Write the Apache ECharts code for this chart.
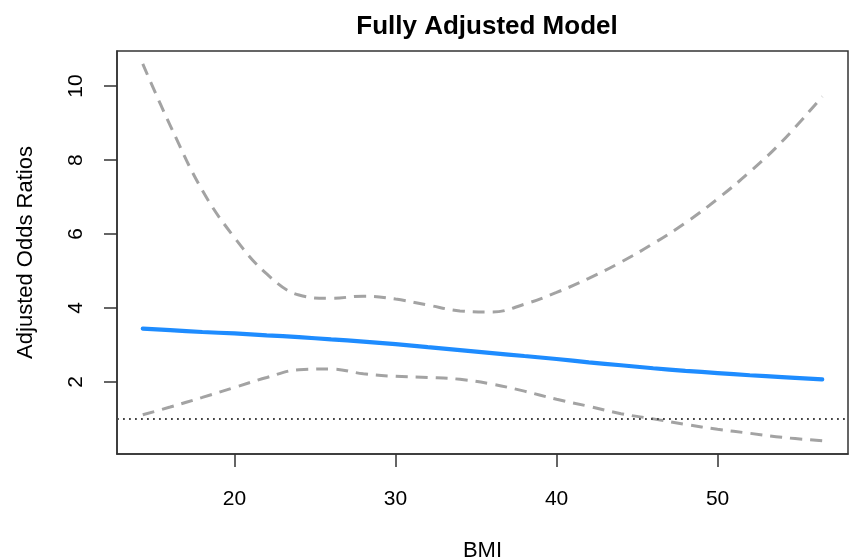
<!DOCTYPE html>
<html>
<head>
<meta charset="utf-8">
<script src="https://cdn.jsdelivr.net/npm/echarts@6/dist/echarts.min.js"></script>
<style>
  html, body { margin: 0; padding: 0; background: #fff; }
  #container { width: 855px; height: 560px; }
</style>
</head>
<body>
<div id="container"></div>
<script>
var bmi = [14.3, 16, 18, 20, 22, 24, 26, 28, 30, 32, 34, 36, 38, 40, 42, 44, 46, 48, 50, 52, 54, 56.5];
var estimate = [3.44, 3.40, 3.35, 3.31, 3.26, 3.21, 3.15, 3.09, 3.02, 2.94, 2.86, 2.78, 2.70, 2.62, 2.53, 2.45, 2.37, 2.30, 2.24, 2.18, 2.13, 2.07];
var upper = [10.6, 8.94, 7.18, 5.90, 4.92, 4.35, 4.26, 4.32, 4.24, 4.08, 3.92, 3.89, 4.10, 4.42, 4.80, 5.24, 5.74, 6.30, 6.95, 7.68, 8.50, 9.72];
var lower = [1.11, 1.32, 1.58, 1.85, 2.12, 2.33, 2.35, 2.22, 2.15, 2.12, 2.07, 1.94, 1.75, 1.53, 1.34, 1.14, 1.00, 0.85, 0.72, 0.61, 0.50, 0.41];
var refLine = 1;
var xTicks = [20, 30, 40, 50];
var yTicks = [2, 4, 6, 8, 10];

function pairs(ys) {
  return bmi.map(function (x, i) { return [x, ys[i]]; });
}

var dom = document.getElementById("container");
var myChart = echarts.init(dom, null, { renderer: "canvas" });

var font = "Liberation Sans, Arial, Helvetica, sans-serif";

var option = {
  animation: false,
  backgroundColor: "#fff",
  title: {
    text: "Fully Adjusted Model",
    left: 482,
    top: 9,
    textAlign: "center",
    textStyle: { fontFamily: font, fontSize: 26, fontWeight: "bold", color: "#000" },
  },
  grid: {
    left: 117,
    right: 7,
    top: 51,
    bottom: 106,
    show: true,
    borderColor: "#333",
    borderWidth: 1.5,
    containLabel: false,
    outerBoundsMode: "none",
  },
  xAxis: {
    type: "value",
    min: 12.7,
    max: 58.1,
    name: "BMI",
    nameLocation: "middle",
    nameGap: 86,
    nameTextStyle: { fontFamily: font, fontSize: 22, color: "#000" },
    axisLine: { show: true, lineStyle: { color: "#333", width: 1.5 } },
    axisTick: { show: true, inside: false, length: 13, customValues: xTicks, lineStyle: { color: "#333", width: 1.5 } },
    axisLabel: { customValues: xTicks, margin: 35, fontFamily: font, fontSize: 21, color: "#000" },
    splitLine: { show: false },
  },
  yAxis: {
    type: "value",
    min: 0.05,
    max: 10.95,
    name: "Adjusted Odds Ratios",
    nameLocation: "middle",
    nameGap: 80,
    nameRotate: 90,
    nameTextStyle: { fontFamily: font, fontSize: 22, color: "#000" },
    axisLine: { show: true, lineStyle: { color: "#333", width: 1.5 } },
    axisTick: { show: true, inside: false, length: 13, customValues: yTicks, lineStyle: { color: "#333", width: 1.5 } },
    axisLabel: { customValues: yTicks, rotate: 90, margin: 30, fontFamily: font, fontSize: 21, color: "#000" },
    splitLine: { show: false },
  },
  series: [
    {
      name: "Upper",
      type: "line",
      data: pairs(upper),
      smooth: 0.4,
      showSymbol: false,
      lineStyle: { color: "#a3a3a3", width: 3, type: [12, 8] },
    },
    {
      name: "Lower",
      type: "line",
      data: pairs(lower),
      smooth: 0.4,
      showSymbol: false,
      lineStyle: { color: "#a3a3a3", width: 3, type: [12, 8] },
      markLine: {
        silent: true,
        symbol: "none",
        label: { show: false },
        lineStyle: { color: "#444", width: 1.8, type: [1.8, 4.2] },
        data: [{ yAxis: refLine }],
      },
    },
    {
      name: "Estimate",
      type: "line",
      data: pairs(estimate),
      smooth: 0.4,
      showSymbol: false,
      lineStyle: { color: "#1e8cff", width: 4.2, cap: "round" },
    },
  ],
};

if (option && typeof option === "object") {
  myChart.setOption(option);
}

window.addEventListener("resize", myChart.resize);
</script>
</body>
</html>
